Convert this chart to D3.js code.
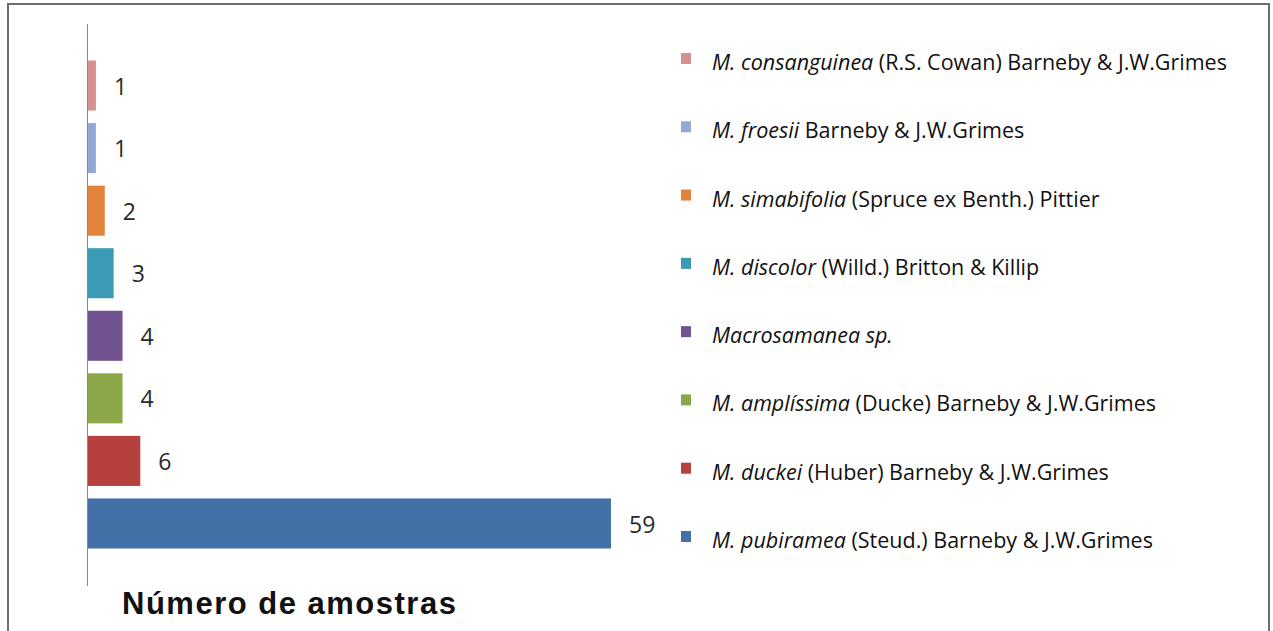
<!DOCTYPE html>
<html><head><meta charset="utf-8">
<script src="https://cdn.jsdelivr.net/npm/d3@7"></script>
<style>html,body{margin:0;padding:0;background:#fff;}svg{display:block;}</style>
</head><body>
<script>
const categories = ["consanguinea","froesii","simabifolia","discolor","macrosamanea","amplissima","duckei","pubiramea"];
const values = [1, 1, 2, 3, 4, 4, 6, 59];
const colors = ["#D4918F","#94A8D6","#E1833B","#3B9AB5","#71538F","#8CA748","#B5403D","#4470A8"];
const legendItalic = ["M. consanguinea","M. froesii","M. simabifolia","M. discolor","Macrosamanea sp.","M. amplíssima","M. duckei","M. pubiramea"];
const legendRest = [" (R.S. Cowan) Barneby & J.W.Grimes"," Barneby & J.W.Grimes"," (Spruce ex Benth.) Pittier"," (Willd.) Britton & Killip",""," (Ducke) Barneby & J.W.Grimes"," (Huber) Barneby & J.W.Grimes"," (Steud.) Barneby & J.W.Grimes"];
const axisTitle = "Número de amostras";

const W = 1273, H = 631;
const svg = d3.select("body").append("svg").attr("width", W).attr("height", H);

// frame
svg.append("rect").attr("x", 8).attr("y", 4).attr("width", 1261).attr("height", 700)
  .attr("fill", "#fff").attr("stroke", "#6e6e6e").attr("stroke-width", 2);

const x = d3.scaleLinear().domain([0, 59]).range([87, 611]);
const y = d3.scaleBand().domain(categories).range([54.24, 554.74]).paddingInner(0.2).paddingOuter(0.1);

// bars
svg.selectAll("rect.bar").data(categories).enter().append("rect")
  .attr("class", "bar")
  .attr("x", x(0)).attr("y", d => y(d))
  .attr("width", (d, i) => x(values[i]) - x(0))
  .attr("height", y.bandwidth())
  .attr("fill", (d, i) => colors[i]);

// axis line
svg.append("line").attr("x1", 87.5).attr("x2", 87.5).attr("y1", 24).attr("y2", 586)
  .attr("stroke", "#8a8a8a").attr("stroke-width", 1);

// value labels
svg.selectAll("text.val").data(categories).enter().append("text")
  .attr("class", "val")
  .attr("x", (d, i) => x(values[i]) + 18)
  .attr("y", d => y(d) + y.bandwidth() / 2 + 3)
  .attr("dominant-baseline", "middle")
  .attr("font-family", "Open Sans, sans-serif")
  .attr("font-size", 23)
  .attr("fill", "#2a2a2a")
  .text((d, i) => values[i]);

// legend
const ly = d3.scalePoint().domain(categories).range([63, 541]);
const lg = svg.selectAll("g.leg").data(categories).enter().append("g").attr("class", "leg")
  .attr("transform", d => `translate(0,${ly(d)})`);
lg.append("rect").attr("x", 681).attr("y", -10).attr("width", 10).attr("height", 11)
  .attr("fill", (d, i) => colors[i]);
const lt = lg.append("text").attr("x", 712).attr("y", 1).attr("dominant-baseline", "middle")
  .attr("font-family", "Open Sans, sans-serif").attr("font-size", 21.5).attr("fill", "#111");
lt.append("tspan").attr("font-style", "italic").text((d, i) => legendItalic[i]);
lt.append("tspan").text((d, i) => legendRest[i]);

// axis title
svg.append("text").attr("x", 122).attr("y", 614)
  .attr("font-family", "Liberation Sans, Arial, sans-serif").attr("font-weight", "bold")
  .attr("font-size", 31).attr("letter-spacing", 1.5).attr("fill", "#111").text(axisTitle);
</script>
</body></html>
